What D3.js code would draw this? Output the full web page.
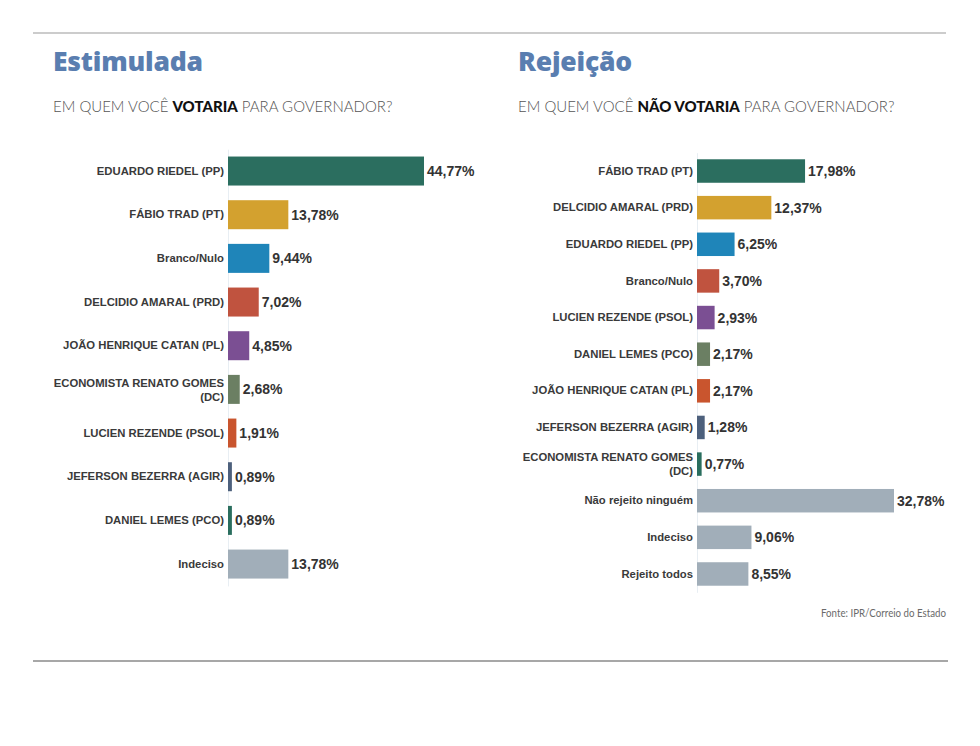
<!DOCTYPE html>
<html>
<head>
<meta charset="utf-8">
<script src="https://cdn.jsdelivr.net/npm/d3@7"></script>
<style>
  body { margin: 0; background: #fff; }
  svg { display: block; }
</style>
</head>
<body>
<div id="chart"></div>
<script>
// intenção de voto (estimulada) e rejeição, IPR/Correio do Estado
const votoCandidatos = [
  "EDUARDO RIEDEL (PP)", "FÁBIO TRAD (PT)", "Branco/Nulo", "DELCIDIO AMARAL (PRD)",
  "JOÃO HENRIQUE CATAN (PL)", "ECONOMISTA RENATO GOMES\n(DC)", "LUCIEN REZENDE (PSOL)",
  "JEFERSON BEZERRA (AGIR)", "DANIEL LEMES (PCO)", "Indeciso"
];
const votoValores = [44.77, 13.78, 9.44, 7.02, 4.85, 2.68, 1.91, 0.89, 0.89, 13.78];
const votoCores = ["#2b6e5f", "#d3a12f", "#1f85b9", "#c0533f", "#7b4f93",
  "#6b7f63", "#c9552e", "#4d607c", "#2a6e5e", "#a1aeb9"];

const rejCandidatos = [
  "FÁBIO TRAD (PT)", "DELCIDIO AMARAL (PRD)", "EDUARDO RIEDEL (PP)", "Branco/Nulo",
  "LUCIEN REZENDE (PSOL)", "DANIEL LEMES (PCO)", "JOÃO HENRIQUE CATAN (PL)",
  "JEFERSON BEZERRA (AGIR)", "ECONOMISTA RENATO GOMES\n(DC)", "Não rejeito ninguém",
  "Indeciso", "Rejeito todos"
];
const rejValores = [17.98, 12.37, 6.25, 3.70, 2.93, 2.17, 2.17, 1.28, 0.77, 32.78, 9.06, 8.55];
const rejCores = ["#2b6e5f", "#d3a12f", "#1f85b9", "#c0533f", "#7b4f93", "#6b7f63",
  "#c9552e", "#4d607c", "#2a6e5e", "#a1aeb9", "#a1aeb9", "#a1aeb9"];

const W = 980, H = 746;
const svg = d3.select("#chart").append("svg").attr("width", W).attr("height", H);

// frame lines
svg.append("line").attr("x1", 33).attr("x2", 946).attr("y1", 33).attr("y2", 33)
  .attr("stroke", "#9a9a9a").attr("stroke-width", 1.2);
svg.append("line").attr("x1", 33).attr("x2", 948).attr("y1", 661).attr("y2", 661)
  .attr("stroke", "#8a8a8a").attr("stroke-width", 1.4);

const fmt = (v) => v.toFixed(2).replace(".", ",") + "%";

const drawPanel = (opt) => {
  const g = svg.append("g");

  // title + question
  g.append("text").attr("x", opt.tx).attr("y", 71)
    .attr("font-family", "'Open Sans', Lato, sans-serif").attr("font-weight", 800)
    .attr("font-size", 26.5).attr("letter-spacing", -0.2)
    .style("font-variant-ligatures", "none")
    .attr("fill", "#5a7eb0")
    .text(opt.title);

  const q = g.append("text").attr("x", opt.tx).attr("y", 112)
    .attr("font-family", "Lato").attr("font-size", 15).attr("fill", "#555");
  q.append("tspan").attr("font-weight", 300).text("EM QUEM VOCÊ ");
  q.append("tspan").attr("font-weight", 900).attr("fill", "#111").text(opt.bold);
  q.append("tspan").attr("font-weight", 300).text(" PARA GOVERNADOR?");

  const x = d3.scaleLinear().domain([0, d3.max(opt.values)]).range([0, opt.maxW]);
  const y = d3.scaleBand().domain(opt.cats).range(opt.yRange)
    .paddingInner(opt.pad).paddingOuter(opt.pad / 2);

  const plot = g.append("g").attr("transform", `translate(${opt.x0},0)`);

  // left axis: faint domain line + labels
  const ax = plot.append("g").call(d3.axisLeft(y).tickSize(0).tickPadding(4));
  ax.select(".domain").attr("stroke", "#e8eef3").attr("stroke-width", 1);
  ax.selectAll(".tick text")
    .attr("font-family", "'Liberation Sans', Arial, sans-serif")
    .attr("font-weight", "bold").attr("font-size", 11.3).attr("fill", "#3a3a3a")
    .each(function (d) {
      const parts = d.split("\n");
      if (parts.length > 1) {
        const t = d3.select(this).text(null).attr("dy", null);
        parts.forEach((p, i) => {
          t.append("tspan").attr("x", -4).attr("dy", i === 0 ? "-0.25em" : "1.25em").text(p);
        });
      }
    });

  const rows = opt.cats.map((c, i) => ({ c, v: opt.values[i], col: opt.colors[i] }));

  plot.selectAll("rect.bar").data(rows).join("rect")
    .attr("class", "bar")
    .attr("x", 0)
    .attr("y", (d) => y(d.c))
    .attr("height", y.bandwidth())
    .attr("width", (d) => x(d.v))
    .attr("fill", (d) => d.col);

  plot.selectAll("text.val").data(rows).join("text")
    .attr("class", "val")
    .attr("x", (d) => x(d.v) + 3)
    .attr("y", (d) => y(d.c) + y.bandwidth() / 2)
    .attr("dy", "0.36em")
    .attr("font-family", "'Liberation Sans', Arial, sans-serif")
    .attr("font-weight", "bold").attr("font-size", 14).attr("fill", "#333")
    .text((d) => fmt(d.v));
};

drawPanel({
  title: "Estimulada", bold: "VOTARIA", tx: 53, x0: 228, maxW: 196,
  cats: votoCandidatos, values: votoValores, colors: votoCores,
  yRange: [149.2, 585.9], pad: 0.336
});

drawPanel({
  title: "Rejeição", bold: "NÃO VOTARIA", tx: 518, x0: 697, maxW: 197,
  cats: rejCandidatos, values: rejValores, colors: rejCores,
  yRange: [152.7, 592.3], pad: 0.359
});

svg.append("text").attr("x", 946).attr("y", 617).attr("text-anchor", "end")
  .attr("font-family", "Lato, sans-serif").attr("font-weight", 400)
  .attr("font-size", 11.5).attr("fill", "#6a6a6a")
  .attr("textLength", 125).attr("lengthAdjust", "spacingAndGlyphs")
  .text("Fonte: IPR/Correio do Estado");
</script>
</body>
</html>
